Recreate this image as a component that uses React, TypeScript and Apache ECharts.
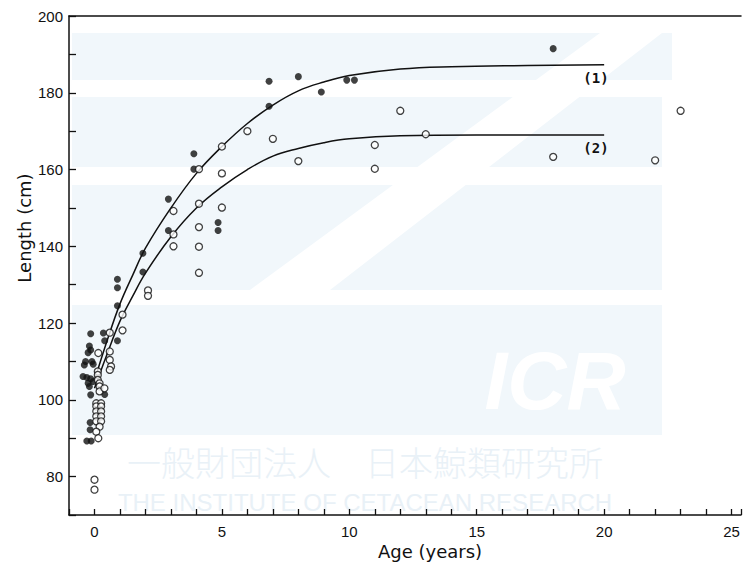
import React, { useEffect, useRef } from "react";
import * as echarts from "echarts";

// ---- data ----
const xTicksMajor = [0, 5, 10, 15, 20, 25];
const yTicksMajor = [80, 100, 120, 140, 160, 180, 200];

// filled circles: [age (years), length (cm)]
const filledPoints: [number, number][] = [
  [18, 191.5], [8, 184.2], [8.9, 180.2], [9.9, 183.3], [10.2, 183.3],
  [6.85, 183], [6.85, 176.5], [3.9, 164.1], [3.9, 160.1], [2.9, 152.3],
  [2.9, 144.1], [4.85, 146.2], [4.85, 144.1], [1.9, 138.2], [1.9, 133.3],
  [0.9, 131.4], [0.9, 129.2], [0.9, 124.5], [0.9, 115.4],
  [-0.15, 117.2], [0.35, 117.4], [0.4, 115.4], [-0.2, 114], [-0.15, 113],
  [-0.25, 112.3], [-0.35, 110], [-0.4, 109.1], [-0.1, 110], [-0.05, 109.3],
  [-0.45, 106.1], [-0.3, 105.8], [-0.15, 105.5], [-0.05, 104.8], [-0.25, 104.3],
  [-0.2, 103.5], [-0.15, 101.3], [0.4, 101.4], [-0.17, 94.1], [-0.17, 92.2],
  [-0.3, 89.3], [-0.13, 89.3],
];

// open circles: [age (years), length (cm)]
const openPoints: [number, number][] = [
  [23, 175.3], [12, 175.3], [13, 169.2], [11, 166.4], [11, 160.2], [8, 162.2],
  [18, 163.3], [22, 162.4], [7, 168], [6, 170], [5, 166], [5, 159], [5, 150.1],
  [4.1, 160.1], [4.1, 151.1], [4.1, 145], [4.1, 139.9], [4.1, 133.1],
  [3.1, 149.2], [3.1, 143.1], [3.1, 140], [2.1, 128.5], [2.1, 127.1],
  [1.1, 122.2], [1.1, 118.1], [0.6, 117.5],
  [0.6, 112.6], [0.6, 110.4], [0.65, 108.7], [0.6, 107.8], [0.15, 112.2],
  [0.13, 107.4], [0.13, 106.5], [0.13, 105.2], [0.2, 104.3], [0.2, 103.5],
  [0.2, 102.2], [0.39, 103], [0.07, 99.1], [0.26, 99.1], [0.07, 98.3],
  [0.26, 98.3], [0.07, 97], [0.26, 97], [0.07, 95.7], [0.26, 95.7],
  [0.07, 94.4], [0.26, 94.4], [0.2, 93], [0.07, 91.7], [0.15, 90],
  [0, 79.2], [0, 76.6],
];

// growth curves
const curve1: [number, number][] = [
  [0, 105], [0.5, 115.5], [1, 125], [1.5, 132.5], [2, 139.5], [3, 150],
  [4, 159], [5, 166], [6, 172], [7, 176.8], [8, 180.5], [9, 182.8],
  [10, 184.5], [12, 186.2], [14, 186.8], [17, 187.1], [20, 187.3],
];
const curve2: [number, number][] = [
  [0, 103], [0.5, 112], [1, 120.5], [1.5, 127], [2, 133], [3, 142.5],
  [4, 150], [5, 155.5], [6, 160], [7, 163.5], [8, 165.5], [9, 167],
  [10, 168], [12, 168.8], [15, 169], [20, 169],
];

const curveLabels = ["(1)", "(2)"];

export default function App() {
  const ref = useRef<HTMLDivElement>(null);
  useEffect(() => {
    if (!ref.current) return;
    const chart = echarts.init(ref.current, null, { renderer: "svg" });
    const wm = "#f1f7fb";
    const wmText = "#e9f1f7";
    const option: any = {
      animation: false,
      backgroundColor: "#ffffff",
      grid: { left: 69, right: 0, top: 16, bottom: 49 },
      xAxis: [
        {
          type: "value",
          min: -1,
          max: 25.37,
          interval: 1,
          splitLine: { show: false },
          axisLine: { show: true, onZero: false, lineStyle: { color: "#111", width: 1.5 } },
          axisTick: { show: true, inside: true, length: 6, lineStyle: { color: "#111", width: 1.3 } },
          axisLabel: {
            margin: 9,
            fontSize: 15,
            color: "#111",
            fontFamily: "Liberation Sans, Arial, sans-serif",
            formatter: (v: number) => (xTicksMajor.includes(v) ? String(v) : ""),
          },
        },
        {
          type: "value",
          position: "top",
          min: -1,
          max: 25.37,
          splitLine: { show: false },
          axisLine: { show: true, onZero: false, lineStyle: { color: "#111", width: 1.5 } },
          axisTick: { show: false },
          axisLabel: { show: false },
        },
      ],
      yAxis: {
        type: "value",
        min: 70,
        max: 200,
        interval: 10,
        splitLine: { show: false },
        axisLine: { show: true, onZero: false, lineStyle: { color: "#111", width: 1.5 } },
        axisTick: { show: true, inside: true, length: 7, lineStyle: { color: "#111", width: 1.3 } },
        axisLabel: {
          margin: 6,
          fontSize: 15,
          color: "#111",
          fontFamily: "Liberation Sans, Arial, sans-serif",
          formatter: (v: number) => (yTicksMajor.includes(v) ? String(v) : ""),
        },
      },
      graphic: [
        { type: "rect", z: -10, shape: { x: 72, y: 33, width: 600, height: 47 }, style: { fill: wm } },
        { type: "rect", z: -10, shape: { x: 72, y: 97, width: 590, height: 70 }, style: { fill: wm } },
        { type: "rect", z: -10, shape: { x: 72, y: 185, width: 590, height: 105 }, style: { fill: wm } },
        { type: "rect", z: -10, shape: { x: 72, y: 305, width: 590, height: 130 }, style: { fill: wm } },
        {
          type: "polygon", z: -9,
          shape: { points: [[600, 33], [662, 33], [330, 290], [250, 290]] },
          style: { fill: "#ffffff" },
        },
        {
          type: "text", z: -8, x: 555, y: 380,
          style: {
            text: "ICR", fill: "#ffffff", fontSize: 82, fontWeight: "bold", fontStyle: "italic",
            fontFamily: "Liberation Sans, Arial, sans-serif", align: "center", verticalAlign: "middle",
          },
        },
        {
          type: "text", z: -8, x: 365, y: 461,
          style: {
            text: "一般財団法人　日本鯨類研究所", fill: wmText, fontSize: 34,
            fontFamily: "Noto Sans CJK JP", fontWeight: 300, align: "center", verticalAlign: "middle",
          },
        },
        {
          type: "text", z: -8, x: 365, y: 502,
          style: {
            text: "THE INSTITUTE OF CETACEAN RESEARCH", fill: wmText, fontSize: 24,
            fontFamily: "Liberation Sans Narrow, Liberation Sans, sans-serif", align: "center", verticalAlign: "middle",
          },
        },
        {
          type: "text", x: 430, y: 551,
          style: {
            text: "Age (years)", fill: "#111", fontSize: 18,
            fontFamily: "DejaVu Sans, sans-serif", align: "center", verticalAlign: "middle",
          },
        },
        {
          type: "text", x: 24, y: 228, rotation: Math.PI / 2,
          style: {
            text: "Length (cm)", fill: "#111", fontSize: 18,
            fontFamily: "DejaVu Sans, sans-serif", align: "center", verticalAlign: "middle",
          },
        },
        {
          type: "text", x: 596, y: 78,
          style: { text: curveLabels[0], fill: "#111", fontSize: 14, fontWeight: "bold", fontFamily: "DejaVu Sans Mono, monospace", align: "center", verticalAlign: "middle" },
        },
        {
          type: "text", x: 596, y: 148,
          style: { text: curveLabels[1], fill: "#111", fontSize: 14, fontWeight: "bold", fontFamily: "DejaVu Sans Mono, monospace", align: "center", verticalAlign: "middle" },
        },
      ],
      series: [
        {
          type: "line", data: curve1, smooth: 0.4, showSymbol: false, z: 2,
          lineStyle: { color: "#111", width: 1.5 },
        },
        {
          type: "line", data: curve2, smooth: 0.4, showSymbol: false, z: 2,
          lineStyle: { color: "#111", width: 1.5 },
        },
        {
          type: "scatter", data: filledPoints, symbol: "circle", symbolSize: 7, z: 3,
          itemStyle: { color: "#111" },
        },
        {
          type: "scatter", data: openPoints, symbol: "circle", symbolSize: 7, z: 4,
          itemStyle: { color: "#ffffff", borderColor: "#111", borderWidth: 1.3 },
        },
      ],
    };
    chart.setOption(option);
    return () => chart.dispose();
  }, []);
  return <div ref={ref} style={{ width: 744, height: 564, position: "absolute", left: 0, top: 0 }} />;
}
